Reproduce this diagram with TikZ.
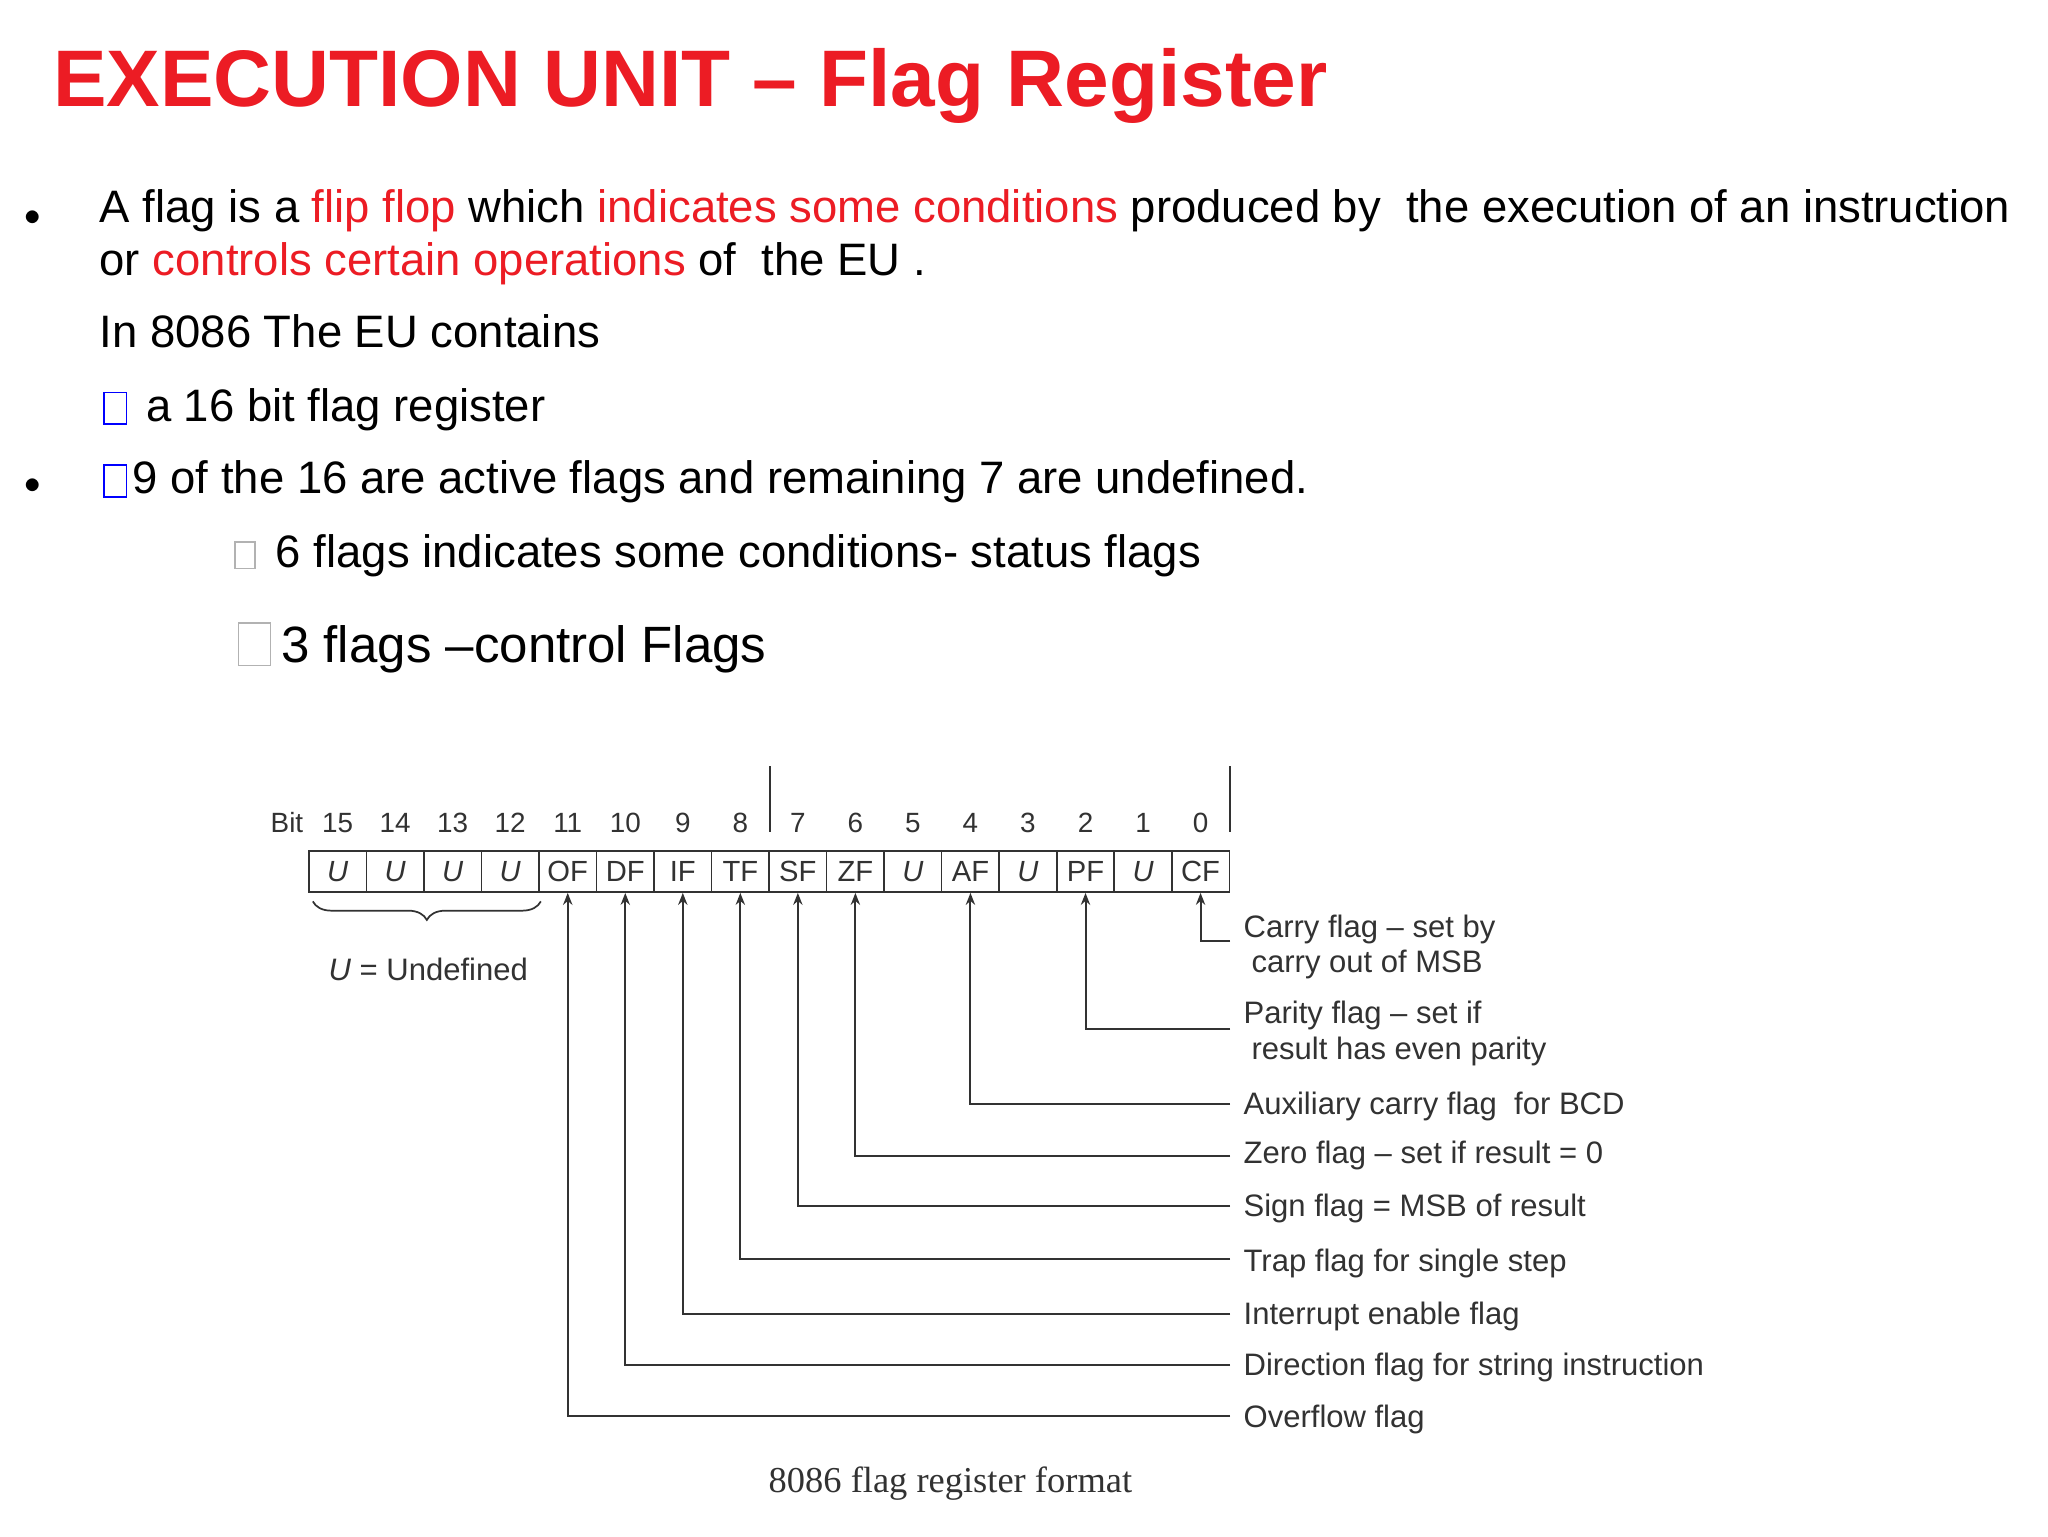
\documentclass[tikz,border=0pt]{standalone}
\usepackage{fontspec}
\setmainfont{Liberation Sans}
\usetikzlibrary{decorations.pathreplacing,arrows.meta}
\definecolor{tred}{RGB}{236,28,36}
\definecolor{dg}{RGB}{50,50,50}
\tikzset{
 body/.style={anchor=base west,inner sep=0,font=\fontsize{34.3}{40}\selectfont},
 ebox/.style={draw,minimum width=17,minimum height=24,inner sep=0,line width=1.2},
 dlab/.style={anchor=base west,inner sep=0,text=dg,font=\fontsize{23.4}{26}\selectfont},
 cell/.style={draw=dg,line width=1.2,minimum width=43.4,minimum height=31,inner sep=0,text=dg,font=\fontsize{22}{24}\selectfont},
 bitn/.style={text=dg,inner sep=0,anchor=base,font=\fontsize{21}{24}\selectfont},
 feed/.style={draw=dg,line width=1.5,-{Stealth[length=9,width=7]}},
}
\begin{document}
\begin{tikzpicture}[x=1pt,y=-1pt]
\useasboundingbox (0,0) rectangle (1545,1159);
\fill[white] (0,0) rectangle (1545,1159);
\node[anchor=base west,inner sep=0,text=tred,font=\fontsize{60.5}{70}\selectfont\bfseries] (title) at (40,80) {EXECUTION UNIT – Flag Register};
\node[body] (b1) at (18,170) {$\bullet$};
\node[body] (l1) at (75,168) {A flag is a \textcolor{tred}{flip flop} which \textcolor{tred}{indicates some conditions} produced by\ \ the execution of an instruction};
\node[body] (l2) at (75,208) {or \textcolor{tred}{controls certain operations} of\ \ the EU .};
\node[body] (l3) at (75,262) {In 8086 The EU contains};
\node[ebox,draw=blue] (x1) at (87,308) {};
\node[body] (l4) at (110,318) {a 16 bit flag register};
\node[body] (b2) at (18,372) {$\bullet$};
\node[ebox,draw=blue] (x2) at (87,363) {};
\node[body] (l5) at (100,372) {9 of the 16 are active flags and remaining 7 are undefined.};
\node[ebox,draw=gray!60,minimum width=15,minimum height=20] (x3) at (185,419) {};
\node[body] (l6) at (208,428) {6 flags indicates some conditions- status flags};
\node[ebox,draw=gray!60,minimum width=24,minimum height=32] (x4) at (192,486) {};
\node[body,font=\fontsize{38.5}{44}\selectfont] (l7) at (212,500) {3 flags –control Flags};
% register
\node[bitn,anchor=base west] (bit) at (204,628) {Bit};
\foreach \n [count=\i from 0] in {15,...,0} {
  \node[bitn] (bn\i) at ({233+43.4*(\i+0.5)},628) {\n};
}
\foreach \t [count=\i from 0] in {{\itshape U},{\itshape U},{\itshape U},{\itshape U},OF,DF,IF,TF,SF,ZF,{\itshape U},AF,{\itshape U},PF,{\itshape U},CF} {
  \node[cell] (c\i) at ({233+43.4*(\i+0.5)},657.5) {\t};
}
\draw[dg,line width=1.8] (581,578) -- (581,628) (928,578) -- (928,628);
\draw[dg,line width=1.3,decorate,decoration={brace,mirror,amplitude=14}] (236,680) -- (408,680);
\node[dlab,anchor=base] (und) at (323,740) {\textit{U} = Undefined};
% feeds
\foreach \c/\y in {15/710,13/776,11/833,9/872,8/910,7/950,6/991,5/1030,4/1068} {
  \coordinate (e\c) at (928,\y);
  \draw[feed] (e\c) -| (c\c.south);
}
\node[dlab] at (938,707) {Carry flag – set by};
\node[dlab] at (944,734) {carry out of MSB};
\node[dlab] at (938,772) {Parity flag – set if};
\node[dlab] at (944,799) {result has even parity};
\node[dlab] at (938,841) {Auxiliary carry flag\ \ for BCD};
\node[dlab] at (938,878) {Zero flag – set if result = 0};
\node[dlab] at (938,918) {Sign flag = MSB of result};
\node[dlab] at (938,959) {Trap flag for single step};
\node[dlab] at (938,999) {Interrupt enable flag};
\node[dlab] at (938,1038) {Direction flag for string instruction};
\node[dlab] at (938,1077) {Overflow flag};
\node[anchor=base,inner sep=0,text=dg,font=\fontspec{Liberation Serif}\fontsize{27.5}{30}\selectfont] (cap) at (717,1126) {8086 flag register format};
\end{tikzpicture}
\end{document}
